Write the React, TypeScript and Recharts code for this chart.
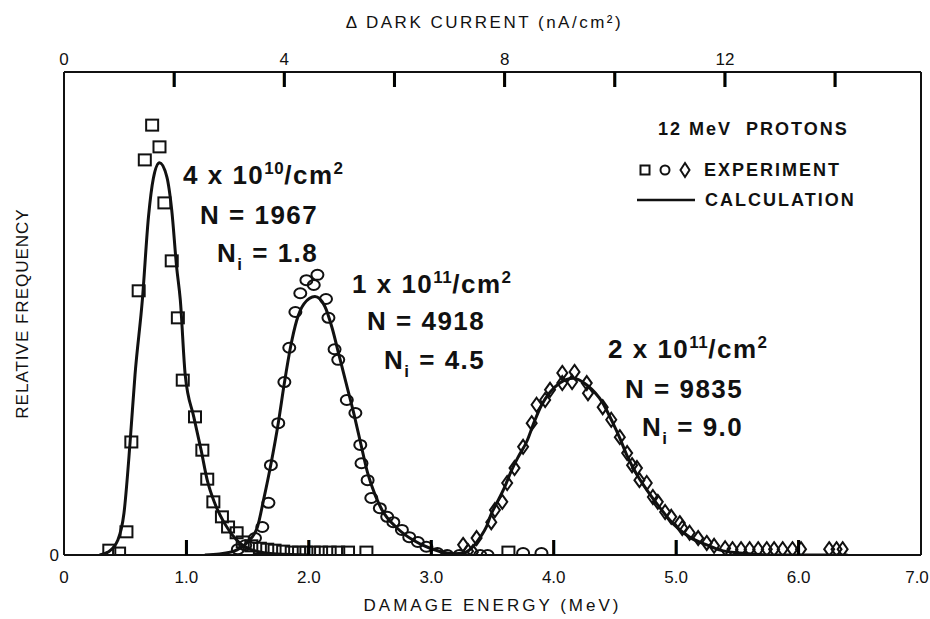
import { ComposedChart, Line, Scatter, XAxis, YAxis, Label } from 'recharts';

// calculated curves, [damage energy MeV, relative frequency]
const calcLow: [number, number][] = [
  [0.29, 0], [0.36, 0.006], [0.44, 0.031], [0.49, 0.087], [0.54, 0.234], [0.58, 0.373],
  [0.64, 0.528], [0.69, 0.7], [0.73, 0.78], [0.78, 0.812], [0.84, 0.783], [0.88, 0.714],
  [0.92, 0.596], [0.95, 0.528], [0.99, 0.373], [1.06, 0.286], [1.12, 0.217], [1.17, 0.155],
  [1.23, 0.108], [1.31, 0.066], [1.41, 0.031], [1.54, 0.01], [1.74, 0.002], [2.0, 0]
];
const calcMid: [number, number][] = [
  [1.15, 0], [1.27, 0.002], [1.41, 0.01], [1.5, 0.027], [1.58, 0.058], [1.63, 0.114],
  [1.69, 0.188], [1.75, 0.273], [1.8, 0.356], [1.85, 0.43], [1.9, 0.485], [1.96, 0.52],
  [2.05, 0.535], [2.13, 0.515], [2.19, 0.47], [2.25, 0.41], [2.31, 0.35], [2.37, 0.29],
  [2.42, 0.235], [2.48, 0.17], [2.54, 0.125], [2.6, 0.092], [2.72, 0.056], [2.85, 0.031],
  [2.99, 0.014], [3.13, 0.004], [3.31, 0]
];
const calcHigh: [number, number][] = [
  [3.07, 0], [3.26, 0.004], [3.34, 0.017], [3.4, 0.037], [3.45, 0.058], [3.49, 0.085],
  [3.54, 0.11], [3.6, 0.141], [3.65, 0.172], [3.71, 0.203], [3.78, 0.235], [3.84, 0.275],
  [3.9, 0.31], [3.97, 0.337], [4.05, 0.356], [4.16, 0.366], [4.27, 0.352], [4.4, 0.315],
  [4.48, 0.275], [4.54, 0.242], [4.6, 0.205], [4.68, 0.166], [4.76, 0.135], [4.87, 0.097],
  [4.97, 0.066], [5.11, 0.037], [5.25, 0.021], [5.36, 0.01], [5.52, 0.004], [5.84, 0], [6.4, 0]
];

// experiment, 4e10 /cm2 (squares)
const expLow: [number, number][] = [
  [0.37, 0.01], [0.45, 0.004], [0.51, 0.048], [0.55, 0.234], [0.61, 0.547], [0.66, 0.818],
  [0.72, 0.89], [0.78, 0.845], [0.82, 0.729], [0.88, 0.609], [0.93, 0.491], [0.97, 0.362],
  [1.07, 0.286], [1.13, 0.217], [1.17, 0.157], [1.22, 0.11], [1.29, 0.079], [1.34, 0.058],
  [1.41, 0.046], [1.46, 0.027], [1.53, 0.019], [1.6, 0.014], [1.66, 0.012], [1.72, 0.01],
  [1.79, 0.008], [1.86, 0.006], [1.92, 0.006], [1.98, 0.006], [2.04, 0.006], [2.1, 0.006],
  [2.17, 0.006], [2.24, 0.006], [2.32, 0.006], [2.47, 0.006], [3.63, 0.006]
];
// experiment, 1e11 /cm2 (circles)
const expMid: [number, number][] = [
  [1.42, 0.012], [1.48, 0.02], [1.56, 0.035], [1.62, 0.058], [1.67, 0.108], [1.69, 0.186],
  [1.75, 0.273], [1.8, 0.358], [1.84, 0.429], [1.89, 0.503], [1.93, 0.542], [1.98, 0.569],
  [2.04, 0.559], [2.07, 0.58], [2.14, 0.53], [2.16, 0.491], [2.21, 0.426], [2.24, 0.404],
  [2.31, 0.321], [2.38, 0.294], [2.42, 0.228], [2.43, 0.19], [2.48, 0.155], [2.51, 0.118],
  [2.58, 0.097], [2.64, 0.079], [2.69, 0.068], [2.76, 0.052], [2.82, 0.037], [2.89, 0.027],
  [2.96, 0.017], [3.05, 0.004], [3.13, 0], [3.23, 0], [3.4, 0], [3.46, 0], [3.75, 0.004], [3.9, 0.004]
];
// experiment, 2e11 /cm2 (diamonds)
const expHigh: [number, number][] = [
  [3.26, 0.021], [3.3, 0.008], [3.34, 0.006], [3.37, 0.035], [3.49, 0.068], [3.52, 0.093],
  [3.58, 0.11], [3.62, 0.149], [3.68, 0.18], [3.75, 0.224], [3.82, 0.273], [3.86, 0.311],
  [3.93, 0.321], [3.97, 0.342], [4.07, 0.356], [4.07, 0.377], [4.15, 0.358], [4.17, 0.379],
  [4.27, 0.356], [4.28, 0.335], [4.4, 0.306], [4.47, 0.28], [4.54, 0.244], [4.6, 0.211],
  [4.64, 0.186], [4.68, 0.18], [4.7, 0.155], [4.76, 0.149], [4.81, 0.12], [4.85, 0.11],
  [4.91, 0.089], [4.96, 0.079], [5.03, 0.066], [5.05, 0.056], [5.11, 0.046], [5.18, 0.035],
  [5.25, 0.025], [5.31, 0.019], [5.4, 0.014], [5.46, 0.012], [5.53, 0.012], [5.6, 0.012],
  [5.67, 0.012], [5.74, 0.012], [5.8, 0.012], [5.87, 0.012], [5.95, 0.012], [6.02, 0.012],
  [6.25, 0.012], [6.31, 0.012], [6.36, 0.012]
];

const energyTicks = [0, 1, 2, 3, 4, 5, 6, 7];
const currentTicks = [0, 2, 4, 6, 8, 10, 12, 14];
const currentLabels = [0, 4, 8, 12];

const fluences = [
  { coef: '4', exp: '10', n: '1967', ni: '1.8' },
  { coef: '1', exp: '11', n: '4918', ni: '4.5' },
  { coef: '2', exp: '11', n: '9835', ni: '9.0' }
];

const toPts = (arr: [number, number][]) => arr.map(([x, y]) => ({ x, y }));

const ink = '#111';
const axisFont = '"Liberation Sans", Arial, sans-serif';

// inward tick mark: a bar glyph plus a thin bar shape at the same spot
function Mark({ x, top }: { x: number; top: number }) {
  return (
    <g>
      <rect x={x - 1.5} y={top} width={3} height={15} fill="#000" />
      <text x={x} y={top + 11.5} textAnchor="middle" fontSize={16} fontWeight={700} fill="#000"
        fontFamily={axisFont}>|</text>
    </g>
  );
}

// y arrives as the label baseline (axis line + tickMargin)
function BottomTick(props: any) {
  const { x, y, payload } = props;
  const v = payload.value as number;
  const axisY = y - 28;
  return (
    <g>
      {v > 0 && v < 7 && <Mark x={x} top={axisY - 15} />}
      <text x={v === 7 ? x - 4 : x} y={y} textAnchor="middle" fontSize={17} fill={ink} fontFamily={axisFont}>
        {v === 0 ? '0' : v.toFixed(1)}
      </text>
    </g>
  );
}

function TopTick(props: any) {
  const { x, y, payload } = props;
  const v = payload.value as number;
  const axisY = y + 7;
  return (
    <g>
      {v > 0 && <Mark x={x} top={axisY} />}
      {currentLabels.includes(v) && (
        <text x={x} y={y} textAnchor="middle" fontSize={17} fill={ink} fontFamily={axisFont}>{v}</text>
      )}
    </g>
  );
}

function LeftTick(props: any) {
  const { x, y, payload } = props;
  return (
    <text x={x - 5} y={y + 6} textAnchor="end" fontSize={17} fill={ink} fontFamily={axisFont}>{payload.value}</text>
  );
}

const SquareMark = (p: any) => (
  <rect x={p.cx - 6} y={p.cy - 5.5} width={12} height={11} fill="none" stroke={ink} strokeWidth={2} />
);
const CircleMark = (p: any) => (
  <ellipse cx={p.cx} cy={p.cy} rx={6} ry={5} fill="none" stroke={ink} strokeWidth={2} />
);
const DiamondMark = (p: any) => (
  <polygon
    points={`${p.cx},${p.cy - 7} ${p.cx + 5},${p.cy} ${p.cx},${p.cy + 7} ${p.cx - 5},${p.cy}`}
    fill="none" stroke={ink} strokeWidth={2}
  />
);
const NoMark = () => <g />;

const titleStyle = { fontSize: 17, fill: ink, fontFamily: axisFont, letterSpacing: 2.5 };

// annotation line positions: [left, centre y] for the three rows of each block
const noteSpots = [
  [[183, 175], [200, 215], [217, 253]],
  [[352, 284], [367, 321], [384, 360]],
  [[608, 349], [625, 389], [642, 427]]
];

const noteText: React.CSSProperties = {
  position: 'absolute', fontFamily: axisFont, fontWeight: 700, fontSize: 26,
  lineHeight: '30px', letterSpacing: 1.5, color: ink, whiteSpace: 'pre'
};
const sup: React.CSSProperties = { fontSize: 17, position: 'relative', top: -10, letterSpacing: 0.5 };
const sub: React.CSSProperties = { fontSize: 17, position: 'relative', top: 8 };
const legendText: React.CSSProperties = {
  position: 'absolute', fontFamily: axisFont, fontWeight: 700, fontSize: 18,
  lineHeight: '22px', letterSpacing: 2, color: ink, whiteSpace: 'pre'
};

export default function App() {
  return (
    <div style={{ position: 'absolute', left: 0, top: 0, width: 930, height: 619, background: '#fff' }}>
      <ComposedChart width={930} height={619} margin={{ top: 32, right: 4, bottom: 24, left: 24 }}>
        <XAxis
          xAxisId="e" dataKey="x" type="number" domain={[0, 7]} ticks={energyTicks} interval={0}
          allowDataOverflow height={40} tickSize={0} tickMargin={28} tickLine={false}
          tick={<BottomTick />} axisLine={{ stroke: ink, strokeWidth: 2 }}
        >
          <Label content={(p: any) => (
            <text x={p.viewBox.x + p.viewBox.width / 2} y={p.viewBox.y + 56} textAnchor="middle" {...titleStyle}
              letterSpacing={3}>
              DAMAGE ENERGY (MeV)
            </text>
          )} />
        </XAxis>
        <XAxis
          xAxisId="dc" dataKey="x" orientation="top" type="number" domain={[0, 15.56]} ticks={currentTicks}
          interval={0} allowDataOverflow height={40} tickSize={0} tickMargin={7} tickLine={false}
          tick={<TopTick />} axisLine={{ stroke: ink, strokeWidth: 2 }}
        >
          <Label content={(p: any) => (
            <text x={p.viewBox.x + p.viewBox.width / 2 - 8} y={p.viewBox.y + p.viewBox.height - 44}
              textAnchor="middle" {...titleStyle}>
              Δ DARK CURRENT (nA/cm²)
            </text>
          )} />
        </XAxis>
        <YAxis
          yAxisId="f" type="number" domain={[0, 1]} ticks={[0]} allowDataOverflow width={40}
          tickSize={0} tickMargin={0} tickLine={false} tick={<LeftTick />}
          axisLine={{ stroke: ink, strokeWidth: 2 }}
        >
          <Label content={(p: any) => {
            const cx = p.viewBox.x + p.viewBox.width - 42;
            const cy = p.viewBox.y + p.viewBox.height / 2;
            return (
              <text x={cx} y={cy} transform={`rotate(-90 ${cx} ${cy})`} textAnchor="middle"
                dominantBaseline="central" {...titleStyle} letterSpacing={1}>
                RELATIVE FREQUENCY
              </text>
            );
          }} />
        </YAxis>
        <YAxis
          yAxisId="r" orientation="right" type="number" domain={[0, 1]} allowDataOverflow width={5}
          tick={false} tickLine={false} axisLine={{ stroke: ink, strokeWidth: 2 }}
        />

        {/* keeps the dark-current axis attached to a series so it gets a scale */}
        <Scatter xAxisId="dc" yAxisId="f" data={currentTicks.map((c) => ({ x: c, y: 1 }))} dataKey="y"
          shape={NoMark} isAnimationActive={false} />

        <Line xAxisId="e" yAxisId="f" data={toPts(calcLow)} dataKey="y" type="monotone" stroke={ink}
          strokeWidth={3} dot={false} isAnimationActive={false} />
        <Line xAxisId="e" yAxisId="f" data={toPts(calcMid)} dataKey="y" type="monotone" stroke={ink}
          strokeWidth={3} dot={false} isAnimationActive={false} />
        <Line xAxisId="e" yAxisId="f" data={toPts(calcHigh)} dataKey="y" type="monotone" stroke={ink}
          strokeWidth={3} dot={false} isAnimationActive={false} />

        <Scatter xAxisId="e" yAxisId="f" data={toPts(expLow)} dataKey="y" shape={SquareMark} isAnimationActive={false} />
        <Scatter xAxisId="e" yAxisId="f" data={toPts(expMid)} dataKey="y" shape={CircleMark} isAnimationActive={false} />
        <Scatter xAxisId="e" yAxisId="f" data={toPts(expHigh)} dataKey="y" shape={DiamondMark} isAnimationActive={false} />
      </ComposedChart>

      {fluences.map((f, i) => {
        const [a, b, c] = noteSpots[i];
        return (
          <div key={f.n}>
            <div style={{ ...noteText, left: a[0], top: a[1] - 15 }}>
              {f.coef} x 10<span style={sup}>{f.exp}</span>/cm<span style={sup}>2</span>
            </div>
            <div style={{ ...noteText, left: b[0], top: b[1] - 15 }}>N = {f.n}</div>
            <div style={{ ...noteText, left: c[0], top: c[1] - 15 }}>
              N<span style={sub}>i</span> = {f.ni}
            </div>
          </div>
        );
      })}

      <div style={{ ...legendText, left: 658, top: 118 }}>12 MeV  PROTONS</div>
      <svg style={{ position: 'absolute', left: 630, top: 155 }} width={80} height={60}>
        <rect x={10.5} y={10.5} width={9} height={9} fill="none" stroke={ink} strokeWidth={2} />
        <ellipse cx={35} cy={15} rx={4.5} ry={4.5} fill="none" stroke={ink} strokeWidth={2} />
        <polygon points="55,8 59.5,15 55,22 50.5,15" fill="none" stroke={ink} strokeWidth={2} />
        <line x1={7} x2={65} y1={45} y2={45} stroke={ink} strokeWidth={2.5} />
      </svg>
      <div style={{ ...legendText, left: 704, top: 159 }}>EXPERIMENT</div>
      <div style={{ ...legendText, left: 705, top: 189 }}>CALCULATION</div>
    </div>
  );
}
